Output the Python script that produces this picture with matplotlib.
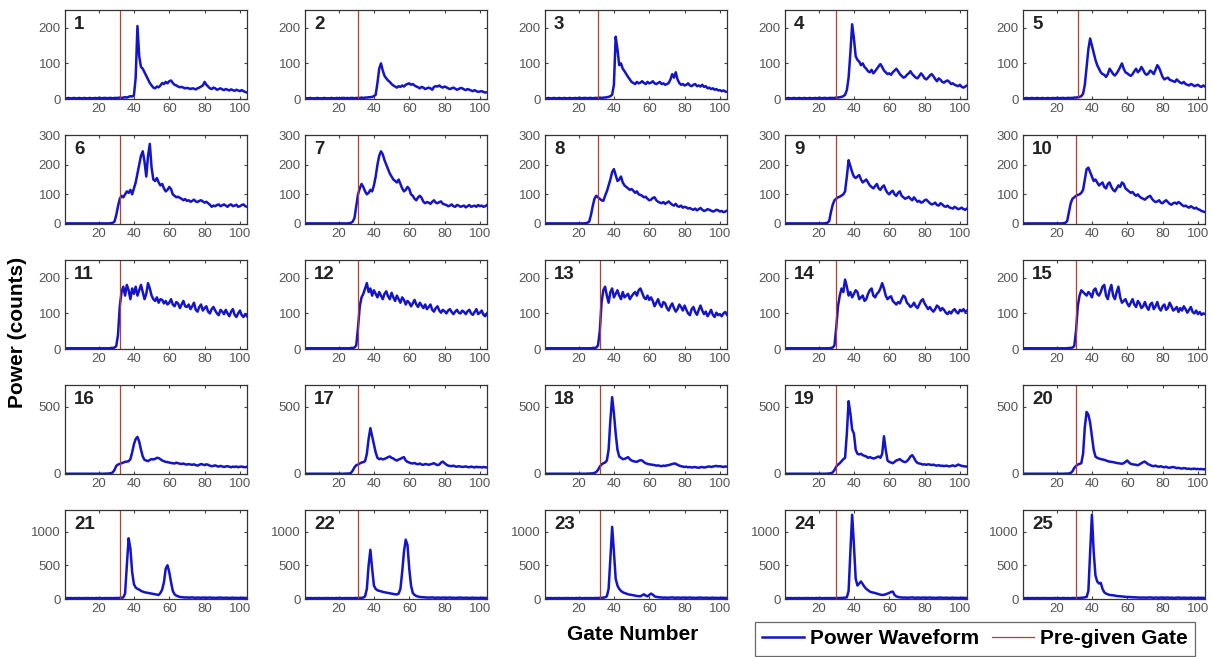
import numpy as np
import matplotlib
matplotlib.use("Agg")
import matplotlib.pyplot as plt
from matplotlib.lines import Line2D

plt.rcParams['font.family'] = ['Liberation Sans', 'DejaVu Sans']

# waveforms, one value per gate (gates 1..104)
wf01 = [2, 2, 3, 2, 2, 3, 2, 2, 3, 2, 2, 3, 2, 2, 3, 2, 2, 3, 2, 3,
        3, 2, 3, 3, 2, 3, 3, 2, 3, 3, 3, 4, 3, 4, 5, 4, 6, 8, 7, 10,
        60, 205, 120, 90, 85, 75, 65, 55, 45, 38, 32, 30, 35, 33, 38, 45, 42, 48, 44, 50,
        52, 45, 40, 38, 35, 33, 34, 32, 30, 31, 30, 28, 30, 29, 27, 30, 32, 35, 38, 48,
        40, 35, 30, 28, 32, 30, 26, 28, 30, 27, 25, 28, 26, 24, 27, 25, 23, 26, 24, 22,
        25, 22, 20, 18]
wf02 = [2, 2, 2, 3, 2, 2, 2, 3, 2, 2, 2, 3, 2, 2, 2, 3, 2, 2, 3, 2,
        2, 3, 3, 2, 3, 2, 3, 3, 2, 3, 3, 3, 4, 3, 4, 4, 5, 5, 6, 8,
        12, 45, 85, 100, 80, 65, 58, 52, 48, 42, 38, 35, 32, 36, 34, 38, 35, 40, 42, 44,
        40, 42, 38, 35, 33, 30, 34, 32, 28, 30, 32, 30, 26, 34, 36, 35, 38, 34, 32, 35,
        33, 30, 28, 30, 32, 29, 26, 28, 31, 30, 27, 25, 28, 26, 24, 22, 25, 22, 20, 21,
        22, 20, 18, 19]
wf03 = [2, 2, 3, 2, 2, 3, 2, 2, 3, 2, 2, 3, 2, 2, 3, 2, 2, 3, 2, 3,
        3, 2, 3, 3, 2, 3, 3, 2, 3, 3, 3, 4, 3, 4, 4, 5, 6, 8, 12, 40,
        175, 140, 95, 100, 85, 78, 70, 62, 55, 48, 45, 42, 48, 44, 46, 50, 45, 42, 48, 44,
        46, 50, 44, 42, 45, 48, 42, 44, 40, 42, 45, 55, 70, 60, 75, 55, 45, 40, 42, 38,
        40, 44, 38, 36, 40, 42, 36, 38, 35, 40, 34, 36, 30, 32, 28, 30, 26, 28, 24, 25,
        22, 24, 21, 20]
wf04 = [2, 2, 3, 2, 2, 3, 2, 2, 3, 2, 2, 3, 2, 2, 3, 2, 2, 3, 2, 3,
        3, 2, 3, 3, 2, 3, 3, 3, 3, 4, 4, 5, 6, 8, 12, 25, 60, 130, 210, 170,
        120, 110, 105, 95, 100, 90, 85, 78, 75, 82, 72, 78, 85, 92, 98, 90, 80, 75, 70, 72,
        68, 75, 80, 85, 78, 70, 65, 60, 62, 68, 72, 78, 70, 65, 60, 58, 65, 72, 66, 58,
        55, 60, 66, 70, 64, 56, 50, 58, 54, 48, 46, 50, 52, 48, 42, 44, 40, 38, 36, 40,
        34, 32, 35, 38]
wf05 = [2, 2, 3, 2, 2, 3, 2, 2, 3, 2, 2, 3, 2, 2, 3, 2, 2, 3, 2, 3,
        3, 2, 3, 3, 2, 3, 3, 3, 3, 4, 4, 5, 6, 8, 15, 40, 90, 140, 170, 150,
        130, 110, 95, 85, 75, 70, 68, 62, 70, 85, 78, 70, 66, 72, 80, 90, 100, 85, 75, 72,
        68, 65, 70, 78, 85, 75, 80, 90, 82, 72, 68, 72, 80, 76, 70, 82, 95, 88, 75, 62,
        55, 58, 60, 54, 52, 50, 48, 55, 50, 46, 44, 48, 42, 40, 38, 42, 40, 36, 38, 40,
        36, 34, 38, 35]
wf06 = [2, 2, 2, 2, 2, 2, 2, 2, 2, 2, 2, 2, 2, 2, 2, 2, 2, 2, 2, 2,
        2, 2, 2, 2, 2, 2, 3, 4, 8, 30, 60, 85, 95, 90, 100, 110, 105, 115, 100, 120,
        140, 170, 200, 230, 245, 210, 160, 230, 270, 190, 150, 145, 155, 140, 130, 135, 120, 110, 115, 125,
        118, 100, 95, 90, 92, 88, 85, 80, 84, 78, 80, 75, 78, 82, 76, 74, 78, 80, 76, 72,
        75, 70, 65, 58, 62, 60, 64, 66, 60, 63, 66, 62, 58, 64, 66, 60, 62, 65, 58, 60,
        64, 66, 60, 58]
wf07 = [2, 2, 2, 2, 2, 2, 2, 2, 2, 2, 2, 2, 2, 2, 2, 2, 2, 2, 2, 2,
        2, 2, 2, 2, 2, 3, 4, 8, 20, 60, 100, 120, 135, 125, 110, 100, 105, 115, 110, 130,
        160, 200, 230, 245, 235, 215, 200, 185, 170, 160, 150, 145, 140, 150, 135, 120, 110, 115, 125, 118,
        100, 95, 85, 80, 90, 95, 88, 75, 70, 74, 72, 68, 75, 80, 72, 70, 74, 76, 68, 66,
        64, 60, 62, 66, 60, 58, 64, 62, 58, 60, 62, 56, 60, 64, 58, 60, 62, 58, 64, 60,
        62, 58, 60, 64]
wf08 = [2, 2, 2, 2, 2, 2, 2, 2, 2, 2, 2, 2, 2, 2, 2, 2, 2, 2, 2, 2,
        2, 2, 2, 3, 4, 8, 30, 60, 85, 95, 90, 85, 80, 78, 95, 110, 130, 150, 175, 185,
        165, 145, 150, 160, 140, 130, 125, 120, 115, 118, 112, 105, 110, 100, 98, 95, 90, 92, 85, 80,
        82, 88, 90, 80, 75, 72, 70, 74, 68, 72, 76, 70, 65, 62, 68, 60, 58, 62, 55, 58,
        56, 52, 54, 50, 48, 52, 46, 50, 54, 48, 44, 46, 50, 48, 45, 42, 44, 48, 46, 42,
        44, 40, 42, 45]
wf09 = [2, 2, 2, 2, 2, 2, 2, 2, 2, 2, 2, 2, 2, 2, 2, 2, 2, 2, 2, 2,
        2, 2, 2, 3, 4, 10, 40, 65, 80, 85, 90, 92, 96, 100, 110, 160, 215, 195, 175, 160,
        155, 160, 165, 150, 140, 145, 150, 140, 130, 125, 120, 128, 135, 120, 115, 125, 130, 115, 105, 100,
        108, 112, 100, 95, 105, 110, 95, 90, 85, 88, 92, 85, 80, 90, 82, 75, 78, 72, 74, 80,
        82, 76, 70, 66, 68, 72, 64, 62, 70, 66, 60, 58, 62, 56, 54, 52, 58, 54, 50, 52,
        55, 50, 48, 52]
wf10 = [2, 2, 2, 2, 2, 2, 2, 2, 2, 2, 2, 2, 2, 2, 2, 2, 2, 2, 2, 2,
        2, 2, 2, 3, 4, 10, 40, 70, 85, 90, 95, 98, 100, 105, 115, 150, 185, 190, 175, 160,
        145, 150, 140, 130, 135, 140, 125, 120, 135, 140, 125, 115, 110, 120, 130, 125, 140, 135, 120, 115,
        110, 105, 108, 100, 95, 100, 92, 88, 85, 82, 88, 92, 95, 85, 78, 74, 76, 80, 72, 70,
        76, 80, 74, 68, 65, 70, 72, 68, 74, 70, 64, 60, 62, 58, 55, 60, 56, 52, 55, 50,
        48, 44, 42, 40]
wf11 = [2, 2, 2, 2, 2, 2, 2, 2, 2, 2, 2, 2, 2, 2, 2, 2, 2, 2, 2, 2,
        2, 2, 2, 2, 2, 2, 3, 3, 4, 8, 40, 120, 160, 175, 150, 180, 165, 140, 170, 155,
        175, 150, 165, 180, 160, 140, 155, 185, 170, 150, 140, 135, 145, 130, 140, 138, 128, 135, 125, 130,
        140, 125, 120, 132, 128, 115, 125, 135, 120, 118, 125, 112, 120, 130, 110, 105, 118, 125, 108, 115,
        120, 105, 100, 112, 118, 108, 100, 95, 110, 105, 98, 110, 100, 92, 105, 112, 96, 90, 100, 108,
        95, 90, 98, 92]
wf12 = [2, 2, 2, 2, 2, 2, 2, 2, 2, 2, 2, 2, 2, 2, 2, 2, 2, 2, 2, 2,
        2, 2, 2, 2, 2, 2, 3, 3, 4, 10, 60, 120, 145, 155, 170, 185, 160, 170, 150, 165,
        155, 145, 160, 150, 140, 155, 162, 148, 140, 158, 145, 135, 150, 140, 130, 145, 138, 125, 135, 130,
        120, 128, 138, 125, 118, 130, 122, 115, 125, 112, 118, 125, 110, 105, 115, 120, 108, 102, 110, 106,
        100, 108, 112, 104, 98, 105, 110, 102, 100, 108, 104, 98, 106, 110, 100, 96, 104, 112, 98, 102,
        108, 96, 92, 100]
wf13 = [2, 2, 2, 2, 2, 2, 2, 2, 2, 2, 2, 2, 2, 2, 2, 2, 2, 2, 2, 2,
        2, 2, 2, 2, 2, 2, 2, 3, 3, 4, 10, 50, 130, 165, 175, 150, 130, 160, 170, 145,
        155, 165, 150, 140, 160, 145, 150, 155, 140, 148, 155, 160, 150, 165, 170, 158, 145, 140, 150, 138,
        145, 135, 120, 130, 140, 125, 118, 132, 128, 115, 108, 120, 128, 115, 105, 112, 125, 118, 108, 122,
        110, 100, 95, 112, 118, 104, 96, 110, 122, 108, 98, 105, 92, 100, 110, 96, 90, 102, 95, 98,
        92, 100, 104, 96]
wf14 = [2, 2, 2, 2, 2, 2, 2, 2, 2, 2, 2, 2, 2, 2, 2, 2, 2, 2, 2, 2,
        2, 2, 2, 2, 2, 2, 3, 4, 10, 60, 120, 150, 170, 160, 195, 175, 150, 160, 145, 155,
        165, 160, 140, 145, 150, 135, 140, 155, 165, 170, 150, 145, 155, 160, 170, 185, 170, 150, 140, 145,
        148, 135, 130, 125, 132, 128, 140, 150, 145, 130, 125, 118, 122, 130, 120, 115, 125, 135, 140, 128,
        120, 112, 118, 110, 105, 112, 122, 118, 108, 115, 110, 102, 98, 105, 100, 108, 112, 104, 100, 110,
        106, 112, 104, 108]
wf15 = [2, 2, 2, 2, 2, 2, 2, 2, 2, 2, 2, 2, 2, 2, 2, 2, 2, 2, 2, 2,
        2, 2, 2, 2, 2, 2, 3, 3, 4, 8, 50, 120, 150, 165, 160, 155, 150, 160, 155, 145,
        165, 170, 155, 150, 160, 175, 180, 150, 140, 165, 180, 150, 140, 160, 175, 145, 130, 135, 140, 128,
        120, 130, 140, 125, 118, 135, 128, 115, 120, 132, 118, 110, 125, 130, 112, 120, 132, 115, 108, 120,
        125, 110, 115, 130, 120, 108, 112, 118, 104, 115, 108, 120, 112, 102, 110, 118, 104, 100, 108, 98,
        104, 96, 100, 98]
wf16 = [2, 2, 2, 2, 2, 2, 2, 2, 2, 2, 2, 2, 2, 2, 2, 2, 2, 2, 2, 2,
        2, 2, 2, 3, 3, 4, 6, 12, 30, 60, 70, 75, 80, 85, 90, 92, 95, 110, 160, 220,
        260, 275, 240, 180, 130, 105, 100, 95, 105, 110, 108, 112, 120, 118, 110, 100, 95, 90, 88, 85,
        82, 80, 78, 84, 80, 76, 74, 78, 72, 70, 74, 70, 68, 72, 66, 62, 68, 74, 70, 66,
        72, 68, 62, 58, 60, 64, 58, 55, 60, 56, 52, 56, 58, 54, 50, 55, 52, 56, 50, 54,
        55, 52, 50, 54]
wf17 = [2, 2, 2, 2, 2, 2, 2, 2, 2, 2, 2, 2, 2, 2, 2, 2, 2, 2, 2, 2,
        2, 2, 2, 3, 3, 4, 8, 25, 50, 65, 70, 78, 85, 88, 95, 150, 260, 340, 280, 220,
        160, 120, 110, 115, 108, 112, 118, 125, 130, 120, 115, 105, 100, 108, 112, 120, 125, 100, 90, 85,
        80, 78, 82, 75, 72, 78, 70, 68, 74, 72, 68, 72, 76, 80, 72, 66, 70, 85, 92, 80,
        70, 62, 60, 58, 62, 56, 54, 58, 55, 52, 54, 56, 52, 50, 55, 52, 48, 54, 50, 52,
        48, 52, 50, 48]
wf18 = [2, 2, 2, 2, 2, 2, 2, 2, 2, 2, 2, 2, 2, 2, 2, 2, 2, 2, 2, 2,
        2, 2, 2, 2, 3, 3, 4, 5, 8, 15, 30, 55, 70, 80, 85, 100, 180, 400, 570, 450,
        300, 180, 130, 120, 110, 112, 118, 125, 110, 100, 95, 92, 90, 98, 102, 100, 88, 80, 75, 72,
        70, 68, 66, 62, 64, 60, 58, 62, 60, 64, 66, 70, 74, 78, 76, 68, 62, 58, 55, 52,
        54, 50, 52, 48, 50, 52, 48, 46, 50, 52, 48, 50, 54, 56, 52, 55, 58, 60, 56, 58,
        55, 52, 56, 54]
wf19 = [2, 2, 2, 2, 2, 2, 2, 2, 2, 2, 2, 2, 2, 2, 2, 2, 2, 2, 2, 2,
        2, 2, 2, 2, 3, 4, 6, 12, 30, 55, 70, 80, 95, 110, 120, 300, 540, 450, 330, 300,
        180, 150, 145, 150, 140, 135, 130, 120, 125, 120, 115, 118, 125, 130, 120, 150, 280, 180, 100, 90,
        85, 80, 90, 100, 105, 110, 100, 92, 88, 95, 110, 130, 140, 120, 95, 82, 78, 75, 70, 72,
        68, 72, 70, 66, 70, 64, 62, 66, 60, 62, 58, 62, 60, 56, 60, 64, 58, 62, 70, 65,
        60, 58, 56, 55]
wf20 = [2, 2, 2, 2, 2, 2, 2, 2, 2, 2, 2, 2, 2, 2, 2, 2, 2, 2, 2, 2,
        2, 2, 2, 2, 3, 3, 4, 8, 20, 45, 60, 70, 75, 80, 150, 350, 460, 440, 380, 280,
        180, 130, 120, 115, 110, 108, 105, 100, 95, 92, 90, 88, 85, 82, 80, 78, 76, 80, 90, 100,
        85, 75, 72, 70, 68, 65, 72, 80, 88, 92, 80, 72, 66, 60, 58, 62, 56, 54, 58, 52,
        50, 54, 48, 46, 50, 52, 48, 44, 46, 42, 40, 44, 42, 38, 40, 36, 38, 40, 36, 38,
        35, 38, 34, 36]
wf21 = [12, 14, 12, 15, 12, 13, 14, 12, 15, 13, 12, 14, 13, 15, 12, 14, 12, 13, 15, 12,
        14, 12, 13, 15, 12, 14, 13, 12, 15, 14, 15, 16, 18, 25, 80, 500, 900, 750, 400, 220,
        170, 150, 140, 120, 110, 100, 95, 90, 85, 80, 75, 70, 65, 60, 90, 140, 250, 450, 500, 400,
        250, 120, 70, 50, 40, 30, 28, 25, 22, 24, 20, 22, 24, 20, 18, 22, 20, 18, 22, 20,
        18, 20, 22, 18, 20, 16, 18, 20, 22, 18, 16, 20, 18, 16, 18, 20, 16, 18, 15, 17,
        16, 18, 15, 16]
wf22 = [12, 14, 12, 15, 12, 13, 14, 12, 15, 13, 12, 14, 13, 15, 12, 14, 12, 13, 15, 12,
        14, 12, 13, 15, 12, 14, 13, 12, 15, 14, 15, 16, 18, 22, 40, 150, 500, 730, 450, 200,
        150, 130, 120, 115, 105, 100, 95, 90, 85, 80, 75, 70, 68, 80, 150, 400, 700, 880, 800, 450,
        200, 90, 60, 45, 35, 30, 28, 26, 24, 22, 20, 22, 24, 20, 18, 22, 20, 18, 22, 20,
        18, 20, 22, 18, 20, 16, 18, 20, 22, 18, 16, 20, 18, 16, 18, 20, 16, 18, 15, 17,
        16, 18, 15, 16]
wf23 = [12, 14, 12, 15, 12, 13, 14, 12, 15, 13, 12, 14, 13, 15, 12, 14, 12, 13, 15, 12,
        14, 12, 13, 15, 12, 14, 13, 12, 15, 14, 15, 16, 18, 20, 25, 40, 150, 600, 1070, 700,
        300, 200, 150, 120, 100, 90, 80, 70, 65, 60, 55, 50, 45, 42, 40, 55, 70, 50, 40, 60,
        80, 65, 40, 32, 28, 24, 22, 20, 22, 18, 20, 22, 24, 20, 18, 22, 20, 18, 22, 20,
        18, 20, 22, 18, 20, 16, 18, 20, 22, 18, 16, 20, 18, 16, 18, 20, 16, 18, 15, 17,
        16, 18, 15, 16]
wf24 = [12, 14, 12, 15, 12, 13, 14, 12, 15, 13, 12, 14, 13, 15, 12, 14, 12, 13, 15, 12,
        14, 12, 13, 15, 12, 14, 13, 12, 15, 14, 15, 15, 16, 18, 20, 25, 120, 700, 1250, 800,
        300, 200, 230, 260, 220, 180, 150, 130, 110, 100, 95, 88, 80, 72, 65, 60, 62, 70, 80, 90,
        105, 110, 60, 40, 30, 25, 22, 20, 22, 18, 20, 22, 24, 20, 18, 22, 20, 18, 22, 20,
        18, 20, 22, 18, 20, 16, 18, 20, 22, 18, 16, 20, 18, 16, 18, 20, 16, 18, 15, 17,
        16, 18, 15, 16]
wf25 = [12, 14, 12, 15, 12, 13, 14, 12, 15, 13, 12, 14, 13, 15, 12, 14, 12, 13, 15, 12,
        14, 12, 13, 15, 12, 14, 13, 12, 15, 14, 15, 15, 16, 18, 20, 25, 30, 120, 700, 1250,
        700, 350, 260, 230, 240, 150, 100, 80, 70, 60, 58, 55, 50, 45, 42, 40, 38, 35, 32, 30,
        30, 28, 26, 25, 24, 22, 22, 20, 22, 20, 20, 22, 24, 20, 18, 22, 20, 18, 22, 20,
        18, 20, 22, 18, 20, 16, 18, 20, 22, 18, 16, 20, 18, 16, 18, 20, 16, 18, 15, 17,
        16, 18, 15, 16]

waveforms = [wf01, wf02, wf03, wf04, wf05, wf06, wf07, wf08, wf09, wf10,
             wf11, wf12, wf13, wf14, wf15, wf16, wf17, wf18, wf19, wf20,
             wf21, wf22, wf23, wf24, wf25]

# pre-given gate of each panel
pregiven_gate = [32, 31, 31, 30, 32,
                 32, 31, 31, 30, 31,
                 32, 31, 32, 30, 31,
                 32, 31, 32, 30, 31,
                 32, 31, 32, 30, 31]

row_ylim = [250, 300, 250, 660, 1320]
row_yticks = [[0, 100, 200], [0, 100, 200, 300], [0, 100, 200], [0, 500], [0, 500, 1000]]
xticks = [20, 40, 60, 80, 100]

W, H = 1213, 657
fig = plt.figure(figsize=(W / 100, H / 100), dpi=100)

col_left = [65, 305, 545, 785, 1023]
row_top = [10, 135, 260, 385, 510]
ax_w, ax_h = 182, 89

blue = '#1414c8'
red = '#c0392b'
grey = '#555555'

for i, wf in enumerate(waveforms):
    r, c = divmod(i, 5)
    ax = fig.add_axes([col_left[c] / W, (H - row_top[r] - ax_h) / H, ax_w / W, ax_h / H])
    gates = np.arange(1, len(wf) + 1)
    ax.plot(gates, wf, color=blue, lw=1.8)
    ax.axvline(pregiven_gate[i], color=red, lw=0.9)
    ax.set_xlim(1, 104)
    ax.set_ylim(0, row_ylim[r])
    ax.set_xticks(xticks)
    ax.set_yticks(row_yticks[r])
    ax.tick_params(direction='in', length=2.5, top=True, right=True,
                   labelsize=9.5, labelcolor=grey, color='#444444', pad=3)
    for sp in ax.spines.values():
        sp.set_color('#333333')
        sp.set_linewidth(0.9)
    ax.text(0.05, 0.93, str(i + 1), transform=ax.transAxes, ha='left', va='top',
            fontsize=13.5, fontweight='bold', color='#222222')

fig.text(18 / W, 1 - 332 / H, 'Power (counts)', rotation=90, ha='center', va='center',
         fontsize=15, fontweight='bold')
fig.text(633 / W, 1 - 634 / H, 'Gate Number', ha='center', va='center',
         fontsize=15, fontweight='bold')

handles = [Line2D([], [], color=blue, lw=1.8),
           Line2D([], [], color=red, lw=0.9)]
leg = fig.legend(handles, ['Power Waveform', 'Pre-given Gate'], ncol=2,
                 loc='upper left', bbox_to_anchor=(755 / W, 1 - 622 / H), borderaxespad=0,
                 prop={'weight': 'bold', 'size': 15}, frameon=True, fancybox=False,
                 handlelength=2.0, columnspacing=0.6, borderpad=0.35, handletextpad=0.3)
leg.get_frame().set_edgecolor('#444444')
leg.get_frame().set_linewidth(0.9)

fig.savefig('out.png', dpi=100)
